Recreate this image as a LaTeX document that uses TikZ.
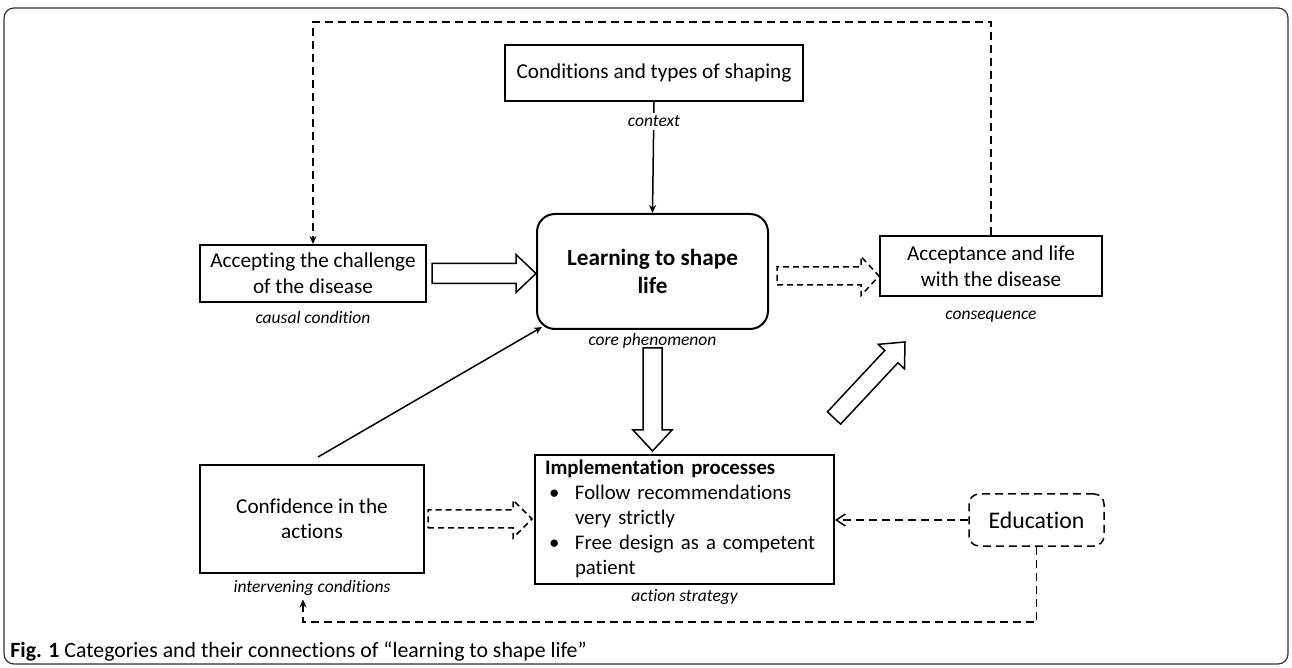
\documentclass[tikz,border=0pt]{standalone}
\usepackage{fontspec}
\setmainfont{Carlito}[Ligatures=NoCommon]
\usetikzlibrary{arrows.meta, calc, positioning}

% hollow block arrow: [style]{from}{to}{half shaft}{half head}{head length}
\newcommand{\blockarrow}[6][]{%
  \coordinate (ba-base) at ($(#3)!#6!(#2)$);
  \draw[#1] ($(#2)!#4!-90:(#3)$) -- ($(ba-base)!#4!90:(#2)$) -- ($(ba-base)!#5!90:(#2)$)
    -- (#3) -- ($(ba-base)!#5!-90:(#2)$) -- ($(ba-base)!#4!-90:(#2)$) -- ($(#2)!#4!90:(#3)$) -- cycle;}

\begin{document}
\begin{tikzpicture}[
	x=0.5pt, y=-0.5pt,
	every node/.style={font=\fontsize{10.6}{13}\selectfont, align=center},
	box/.style={draw, line width=1pt, inner sep=2pt},
	corebox/.style={draw, line width=1pt, rounded corners=9pt, font=\fontsize{11.6}{14}\selectfont\bfseries},
	lbl/.style={font=\fontsize{8.75}{10}\selectfont\itshape, inner sep=0pt, text height=7pt, text depth=1.75pt},
	edge/.style={draw, line width=0.75pt, -{Stealth[length=4pt, width=3.5pt]}},
	dashedge/.style={draw, line width=0.75pt, dash pattern=on 4pt off 2.5pt},
	hollow/.style={draw, line width=0.75pt, fill=white, line join=miter},
	hollowdash/.style={hollow, dash pattern=on 3pt off 2pt}
	]
	\useasboundingbox (0,0) rectangle (1292,668);
	\draw[line width=0.6pt, rounded corners=5pt, black!80] (4,8) rectangle (1288,664);
	
	% Define nodes
	\node (cond) [box, minimum width=149pt, minimum height=28pt] at (654,73) {Conditions and types of shaping};
	\node (learn) [corebox, minimum width=115.5pt, minimum height=57.5pt] at (652.5,271.5) {Learning to shape\\life};
	\node (accept) [box, minimum width=113pt, minimum height=28.5pt] at (313,273.5) {Accepting the challenge\\of the disease};
	\node (cons) [box, minimum width=111pt, minimum height=30pt] at (991,266) {Acceptance and life\\with the disease};
	\node (conf) [box, minimum width=112pt, minimum height=54pt, font=\fontsize{10.6}{12.5}\selectfont] at (312,519) {Confidence in the\\actions};
	\node (impl) [box, text width=139.5pt, minimum height=64.5pt, inner xsep=5pt, inner ysep=1pt, align=left, font=\fontsize{10.4}{12.5}\selectfont] at (684.5,519.5) {%
		\begin{tabular}{@{}p{15pt}@{}l@{}}
			\multicolumn{2}{@{}l@{}}{\textbf{Implementation processes}}\\
			\hspace{2pt}\textbullet & Follow recommendations\\
			& very strictly\\
			\hspace{2pt}\textbullet & Free design as a competent\\
			& patient
		\end{tabular}};
	\node (edu) [draw, line width=0.75pt, dash pattern=on 4pt off 2.5pt, rounded corners=5pt, minimum width=67.5pt, minimum height=26pt, font=\fontsize{11.9}{14}\selectfont] at (1036.5,520) {Education};
	
	\node (causal) [lbl, below=3.1pt of accept] {causal condition};
	\node (corelbl) [lbl, below=0.6pt of learn] {core phenomenon};
	\node (conseq) [lbl, below=4.1pt of cons] {consequence};
	\node (strategy) [lbl, below=1.1pt of impl] {action strategy};
	\node (interv) [lbl, below=2.1pt of conf] {intervening conditions};
	
	\coordinate (loopTop) at (313,22);
	\coordinate (eduLoop) at (303,622);
	\coordinate (confTail) at ($(conf.north)+(6,-7)$);
	\coordinate (coreTip) at ($(learn.south west)+(6,-3)$);
	\coordinate (intervTip) at ($(eduLoop |- interv.south)+(0,3)$);
	
	% Draw edges
	\draw[dashedge, -{Stealth[length=4pt, width=3.5pt]}] (cons.north) |- (loopTop) -- (accept.north);
	\draw[edge] (cond.south) -- (learn.north);
	\draw[edge] (confTail) -- (coreTip);
	\draw[dashedge, -{Straight Barb[length=4.5pt, width=6pt]}] (edu.west) -- (edu.west -| impl.east);
	\draw[dashedge, -{Stealth[length=4pt, width=3.5pt]}] (edu.south) |- (eduLoop) -- (intervTip);
	
	\node (context) [lbl, fill=white, below=5.1pt of cond] {context};
	
	% Block arrows
	\coordinate (a1s) at ($(accept.east)+(5,0)$);
	\coordinate (a1e) at (accept.east -| learn.west);
	\blockarrow[hollow]{a1s}{a1e}{5pt}{9.5pt}{10pt}
	\coordinate (a2s) at ($(learn.south)+(0,18)$);
	\coordinate (a2e) at ($(learn.south |- impl.north)+(0,-3)$);
	\blockarrow[hollow]{a2s}{a2e}{4.75pt}{9.75pt}{10.5pt}
	\coordinate (a3s) at ($(learn.east)+(8,4.5)$);
	\coordinate (a3e) at (a3s -| cons.west);
	\blockarrow[hollowdash]{a3s}{a3e}{4.5pt}{9.75pt}{9pt}
	\coordinate (a4s) at ($(conf.east)+(3,0)$);
	\coordinate (a4e) at ($(conf.east -| impl.west)+(-2,0)$);
	\blockarrow[hollowdash]{a4s}{a4e}{4.5pt}{9.5pt}{9.5pt}
	\coordinate (a5s) at (834,418);
	\coordinate (a5e) at (905,342);
	\blockarrow[hollow]{a5s}{a5e}{4.5pt}{9pt}{10pt}
	
	\node (caption) [anchor=west, inner sep=0pt, font=\fontsize{10.9}{12}\selectfont, align=left] at (10,652) {\textbf{Fig. 1} Categories and their connections of “learning to shape life”};
	
\end{tikzpicture}
\end{document}
